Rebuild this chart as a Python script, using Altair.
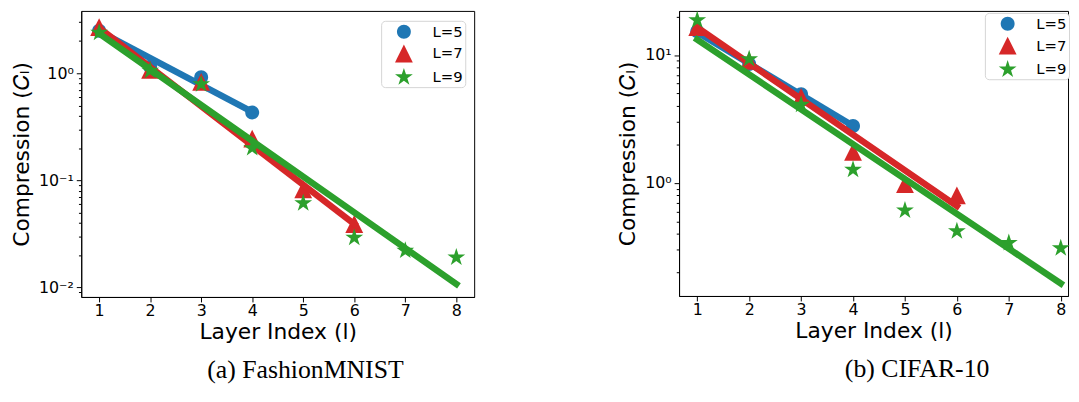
import altair as alt
import pandas as pd

# ---------------- data ----------------
layers = [1, 2, 3, 4, 5, 6, 7, 8]
series = ["L=5", "L=7", "L=9"]
colors = ["#1f77b4", "#d62728", "#2ca02c"]

# (a) FashionMNIST : measured compression per layer
fm_L5 = [2.5, 1.15, 0.92, 0.43]
fm_L7 = [2.7, 1.08, 0.83, 0.245, 0.082, 0.039]
fm_L9 = [2.4, 1.06, 0.79, 0.20, 0.061, 0.029, 0.022, 0.019]
# fitted lines: value at layer 1 and at the last layer of each net
fm_fit_start = [2.48, 2.67, 2.36]
fm_fit_end = [0.435, 0.039, 0.0107]

# (b) CIFAR-10
cf_L5 = [15.3, 8.5, 4.93, 2.79]
cf_L7 = [16.5, 9.0, 4.7, 1.75, 0.98, 0.80]
cf_L9 = [18.7, 9.3, 4.1, 1.27, 0.61, 0.42, 0.34, 0.31]
cf_fit_start = [15.0, 16.4, 13.2]
cf_fit_end = [2.8, 0.66, 0.164]

fm_yticks = [0.009, 0.01, 0.02, 0.03, 0.04, 0.05, 0.06, 0.07, 0.08, 0.09,
             0.1, 0.2, 0.3, 0.4, 0.5, 0.6, 0.7, 0.8, 0.9, 1, 2, 3]
cf_yticks = [0.2, 0.3, 0.4, 0.5, 0.6, 0.7, 0.8, 0.9,
             1, 2, 3, 4, 5, 6, 7, 8, 9, 10, 20]

# ---------------- shapes ----------------
CIRCLE = ("M-0.78,0 A0.78,0.78 0 1,0 0.78,0 A0.78,0.78 0 1,0 -0.78,0 Z")
TRIANGLE = "M0,-1 L-1,1 L1,1 Z"
STAR = ("M0,-1.05 L-0.236,-0.324 L-0.999,-0.324 L-0.381,0.124 L-0.617,0.849 "
        "L0,0.401 L0.617,0.849 L0.381,0.124 L0.999,-0.324 L0.236,-0.324 Z")
shapes = [CIRCLE, TRIANGLE, STAR]
SYM = 324


def long_points(vals_list):
    rows = []
    for s, vals in zip(series, vals_list):
        for l, v in zip(layers, vals):
            rows.append({"series": s, "layer": l, "value": v})
    return pd.DataFrame(rows)


def fit_rows(start, end, vals_list):
    rows = []
    for s, a, b, vals in zip(series, start, end, vals_list):
        rows.append({"series": s, "layer": layers[0], "value": a})
        rows.append({"series": s, "layer": layers[len(vals) - 1], "value": b})
    return pd.DataFrame(rows)


E = "round(log(datum.value)/LN10)"
MAJOR = f"abs(log(datum.value)/LN10 - {E}) < 0.001"
LABEL = (f"{MAJOR} ? ({E} == 1 ? '10\u00b9' : {E} == 0 ? '10\u2070' : "
         f"{E} == -1 ? '10\u207b\u00b9' : {E} == -2 ? '10\u207b\u00b2' : '') : ''")


def panel(vals_list, start, end, xdom, ydom, yticks, w, h, lgx, lgy, caption, cap_dx):
    pts = long_points(vals_list)
    fit = fit_rows(start, end, vals_list)
    x = alt.X("layer:Q",
              scale=alt.Scale(domain=xdom, nice=False, zero=False),
              axis=alt.Axis(values=layers, format="d", title="Layer Index (l)",
                            tickSize=5, labelPadding=1, titlePadding=3))
    y = alt.Y("value:Q",
              scale=alt.Scale(type="log", domain=ydom, nice=False),
              axis=alt.Axis(values=yticks, labelExpr=LABEL,
                            tickSize={"condition": {"test": MAJOR, "value": 5}, "value": 2.8},
                            labelFontSize={"condition": {"test": MAJOR, "value": 16}, "value": 1},
                            labelPadding=3, titlePadding=5,
                            title="Compression (\U0001D436\u2097)"))
    legend = alt.Legend(title=None, orient="none", legendX=lgx, legendY=lgy,
                        fillColor="white", strokeColor="#d4d4d4", cornerRadius=4,
                        padding=2, symbolOffset=12, labelOffset=20, rowPadding=5,
                        labelFont="DejaVu Sans", labelFontSize=15, labelColor="black",
                        symbolSize=SYM, symbolStrokeWidth=0)
    layers_list = []
    for i, s in enumerate(series):
        p = (alt.Chart(pts).transform_filter(alt.datum.series == s)
             .mark_point(filled=True, opacity=1, size=SYM, strokeWidth=0)
             .encode(x=x, y=y,
                     color=alt.Color("series:N", scale=alt.Scale(domain=series, range=colors), legend=legend),
                     shape=alt.Shape("series:N", scale=alt.Scale(domain=series, range=shapes), legend=legend)))
        ln = (alt.Chart(fit).transform_filter(alt.datum.series == s)
              .mark_line(color=colors[i], strokeWidth=6.5, strokeCap="square", clip=True)
              .encode(x=x, y=y))
        layers_list += [p, ln]
    return alt.layer(*layers_list).properties(
        width=w, height=h,
        title=alt.TitleParams(text=caption, orient="bottom", anchor="middle",
                              font="Liberation Serif", fontSize=26, fontWeight="normal",
                              color="black", dx=cap_dx, offset=15))


left = panel([fm_L5, fm_L7, fm_L9], fm_fit_start, fm_fit_end,
             [0.65, 8.35], [0.0081, 3.83], fm_yticks, 397, 289, 303, 10,
             "(a) FashionMNIST", 28)
right = panel([cf_L5, cf_L7, cf_L9], cf_fit_start, cf_fit_end,
              [0.65, 8.14], [0.131, 22.1], cf_yticks, 393, 288, 309, 2,
              "(b) CIFAR-10", 44)

chart = (alt.hconcat(left, right, spacing=142)
         .resolve_scale(x="independent", y="independent", color="independent", shape="independent")
         .resolve_legend(color="independent", shape="independent")
         .properties(padding={"left": 2, "top": 0, "right": 0, "bottom": 0})
         .configure_view(stroke="black", strokeWidth=1)
         .configure_axis(labelFont="DejaVu Sans", labelFontSize=16, labelColor="black",
                         titleFont="DejaVu Sans", titleFontSize=22, titleFontWeight="normal",
                         titleColor="black", grid=False, domainColor="black", tickColor="black"))

chart.save("out.html", embed_options={"renderer": "svg", "actions": False})
